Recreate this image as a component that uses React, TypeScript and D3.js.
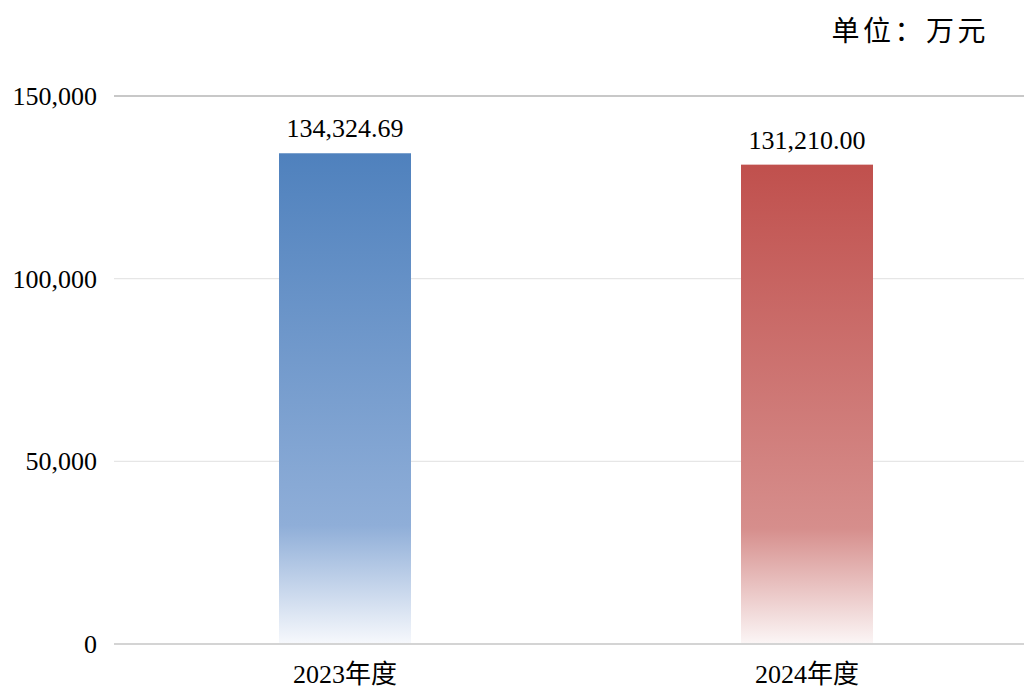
import React from "react";
import * as d3 from "d3";

const categories = ["2023年度", "2024年度"];
const values = [134324.69, 131210.0];
const valueLabels = ["134,324.69", "131,210.00"];
const yTicks = [0, 50000, 100000, 150000];
const unitText = "单位：万元";
const topColors = ["#4F81BD", "#C0504D"];
const midColors = ["#8FAED8", "#D68E8C"];
const bottomColors = ["#F6F8FC", "#FBF5F5"];

const W = 1024;
const H = 690;
const plotLeft = 114;
const plotRight = 1038;
const y0 = 644;
const yTop = 96;

export default function App() {
  const x = d3.scaleBand<string>().domain(categories).range([plotLeft, plotRight]).paddingInner(0.714).paddingOuter(0.357);
  const y = d3.scaleLinear().domain([0, 150000]).range([y0, yTop]);
  const fmt = d3.format(",");
  const font = "'Liberation Serif', 'Times New Roman', 'Noto Sans CJK SC', serif";
  const bw = 132;
  return (
    <svg width={W} height={H} style={{ position: "absolute", left: 0, top: 0, display: "block", background: "#fff" }}>
      <defs>
        {categories.map((c, i) => (
          <linearGradient key={c} id={`g${i}`} x1="0" y1="0" x2="0" y2="1">
            <stop offset="0" stopColor={topColors[i]} />
            <stop offset="0.76" stopColor={midColors[i]} />
            <stop offset="1" stopColor={bottomColors[i]} />
          </linearGradient>
        ))}
      </defs>
      <text x={989} y={41} textAnchor="end" fontSize={28} letterSpacing={3.5} fontFamily="'Noto Sans CJK SC', sans-serif" fill="#000">
        {unitText}
      </text>
      {yTicks.map((t) => (
        <g key={t}>
          <line
            x1={plotLeft}
            x2={W}
            y1={y(t)}
            y2={y(t)}
            stroke={t === 150000 ? "#C8C8C8" : t === 0 ? "#D4D4D4" : "#E6E6E6"}
            strokeWidth={t === 0 || t === 150000 ? 2 : 1.2}
          />
          <text x={97} y={y(t)} dy="0.35em" textAnchor="end" fontSize={26} fontFamily={font} fill="#000">
            {fmt(t)}
          </text>
        </g>
      ))}
      {categories.map((c, i) => {
        const cx = (x(c) as number) + x.bandwidth() / 2;
        return (
          <g key={c}>
            <rect x={cx - bw / 2} y={y(values[i])} width={bw} height={y0 - 1 - y(values[i])} fill={`url(#g${i})`} />
            <text x={cx} y={y(values[i]) - 16} textAnchor="middle" fontSize={26} fontFamily={font} fill="#000">
              {valueLabels[i]}
            </text>
            <text x={cx} y={683} textAnchor="middle" fontSize={26} fontFamily={font} fill="#000">
              {c}
            </text>
          </g>
        );
      })}
    </svg>
  );
}
